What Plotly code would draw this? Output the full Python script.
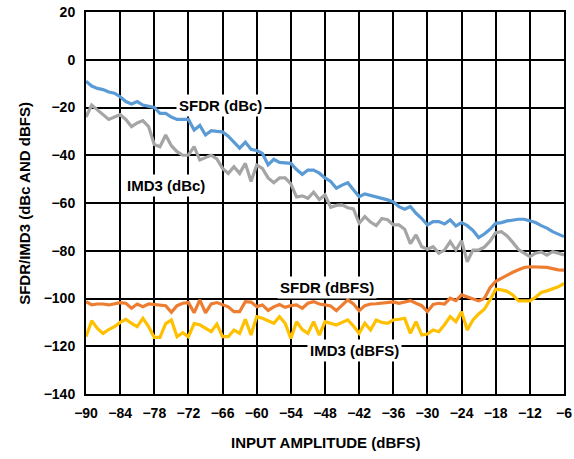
import plotly.graph_objects as go

# Input amplitude sweep, 1 dB steps (dBFS)
input_dbfs = list(range(-90, -5))

sfdr_dbc = [
    -9, -11, -12, -12.5, -13.5, -14, -15.5, -17.5, -18.5, -17.5,
    -19, -19.5, -20, -22.5, -22.5, -24, -25, -25, -25, -29.4,
    -27.5, -31.5, -29.7, -30, -30.2, -32, -34.3, -37, -34.5, -37.5,
    -38, -39.2, -44, -41.7, -43, -43.2, -43.4, -46, -48, -46.2,
    -46.2, -47.5, -49.5, -51, -53.8, -52.5, -51.5, -54.5, -57.4, -56.2,
    -56.8, -57.3, -57.8, -58.7, -59.5, -61.5, -62.6, -61.5, -64.3, -66.5,
    -69.2, -67.8, -67.8, -68.8, -67.1, -69.6, -68.2, -69.5, -71.5, -74.5,
    -73, -71, -68.5, -68.2, -67.5, -67, -66.8, -66.8, -67.4, -68.2,
    -69.5, -70.5, -72, -73, -74.1,
]

imd3_dbc = [
    -24, -19, -21, -23, -25, -24, -23, -25, -28, -26.5,
    -25.5, -28, -35.5, -36.4, -31.5, -36, -38.5, -40, -39.9, -36.4,
    -42, -41, -40, -41.5, -45.5, -47.6, -44.8, -47.6, -43.4, -51,
    -44.1, -45.5, -49.5, -51.5, -49.5, -49.5, -52, -57.5, -57, -58,
    -55.5, -58.5, -56.6, -61.8, -61, -60.8, -62, -62.5, -68.5, -65.7,
    -68, -69.5, -66.5, -67, -69.2, -69.2, -71, -77, -73.4, -78.3,
    -79.4, -78.3, -81, -79.7, -76.2, -79.7, -75.8, -84.6, -79.7, -79.7,
    -78.5, -76, -72.4, -72, -73.8, -76.5, -79.5, -81, -82.5, -81,
    -80.5, -81.8, -80.4, -81, -81.8,
]

sfdr_dbfs = [
    -101.3, -102.7, -102.3, -102.3, -102.7, -102.3, -101.7, -102, -104.1, -102.3,
    -103.4, -102.3, -102.5, -102.7, -103, -105.8, -103, -102, -101.7, -106,
    -100.6, -106, -102.3, -101.7, -102.5, -103.5, -105.5, -105.5, -101.3, -101.5,
    -103.4, -102.7, -105, -103.5, -102.5, -103.7, -103, -102.7, -104.1, -102,
    -101.3, -102.3, -102.7, -103.1, -105.1, -103, -100.6, -102.3, -105.1, -103,
    -102.3, -102.2, -102, -101.8, -101.4, -102, -101.5, -100.9, -102, -103,
    -105.5, -102.5, -102, -102.3, -99.9, -100.9, -98.5, -99.3, -100.2, -101,
    -100, -95.5, -92.8, -91.5, -90.2, -89, -88, -87, -86.7, -86.7,
    -86.7, -87, -87.5, -88, -88.1,
]

imd3_dbfs = [
    -116, -109.3, -112.5, -114.6, -113, -111.8, -110, -108.7, -110.4, -111.8,
    -108.3, -111.8, -116.3, -116.3, -110.5, -109, -116, -114.3, -116, -110.5,
    -111, -112.5, -113.9, -110.7, -116, -116, -113.2, -114.6, -108.7, -115.3,
    -107.6, -108.3, -109.5, -110.4, -107.6, -110.4, -116.7, -109.7, -113, -114.6,
    -109.7, -115.3, -109.7, -110.3, -111.1, -110, -109, -111.5, -114.6, -110.4,
    -113.2, -109, -110, -110.4, -109, -108.7, -108.3, -114.6, -109.7, -115.3,
    -114.9, -113.2, -113.9, -111, -107.6, -109.7, -105.5, -113.2, -109, -106.5,
    -104.5, -100.6, -96.1, -96.4, -97, -98.5, -101, -101, -101, -99.5,
    -97.5, -96.8, -96, -95.1, -93.7,
]

series = [
    ("SFDR (dBc)", sfdr_dbc, "#5B9BD5"),
    ("IMD3 (dBc)", imd3_dbc, "#A5A5A5"),
    ("SFDR (dBFS)", sfdr_dbfs, "#ED7D31"),
    ("IMD3 (dBFS)", imd3_dbfs, "#FFC000"),
]

# Curve labels: (text, x in dBFS, y in dB)
curve_labels = [
    ("SFDR (dBc)", -66.4, -19.0),
    ("IMD3 (dBc)", -75.9, -52.5),
    ("SFDR (dBFS)", -47.6, -95.2),
    ("IMD3 (dBFS)", -42.8, -121.6),
]

FONT = "Liberation Sans, Arial, sans-serif"

fig = go.Figure()
for name, values, color in series:
    fig.add_trace(go.Scatter(
        x=input_dbfs, y=values, mode="lines", name=name,
        line=dict(color=color, width=3.2),
        hoverinfo="skip",
    ))

for text, x, y in curve_labels:
    fig.add_annotation(
        x=x, y=y, xref="x", yref="y", text=text, showarrow=False,
        xanchor="center", yanchor="middle",
        font=dict(family=FONT, size=15, color="black", weight="bold"),
        bgcolor="white", borderpad=2,
    )

# Axis titles placed explicitly in paper coordinates
fig.add_annotation(
    x=-0.13, y=0.5, xref="paper", yref="paper",
    xanchor="center", yanchor="middle",
    text="SFDR/IMD3 (dBc AND dBFS)", textangle=-90, showarrow=False,
    font=dict(family=FONT, size=15, color="black", weight="bold"),
)
fig.add_annotation(
    x=0.5, y=-0.128, xref="paper", yref="paper",
    xanchor="center", yanchor="middle",
    text="INPUT AMPLITUDE (dBFS)", showarrow=False,
    font=dict(family=FONT, size=15, color="black", weight="bold"),
)

axis_common = dict(
    showgrid=True, gridcolor="black", gridwidth=1.5,
    showline=True, linecolor="black", linewidth=2, mirror=True,
    zeroline=False, ticks="", automargin=False,
    tickfont=dict(family=FONT, size=14, color="black", weight="bold"),
)

fig.update_xaxes(range=[-90, -6], tick0=-90, dtick=6, ticklabelstandoff=5, **axis_common)
fig.update_yaxes(range=[-140, 20], tick0=-140, dtick=20, ticklabelstandoff=6, **axis_common)

fig.update_layout(
    width=574, height=459,
    margin=dict(l=86, r=10, t=12, b=65),
    paper_bgcolor="white", plot_bgcolor="white",
    showlegend=False,
    font=dict(family=FONT, color="black"),
)

fig.write_html("out.html")
